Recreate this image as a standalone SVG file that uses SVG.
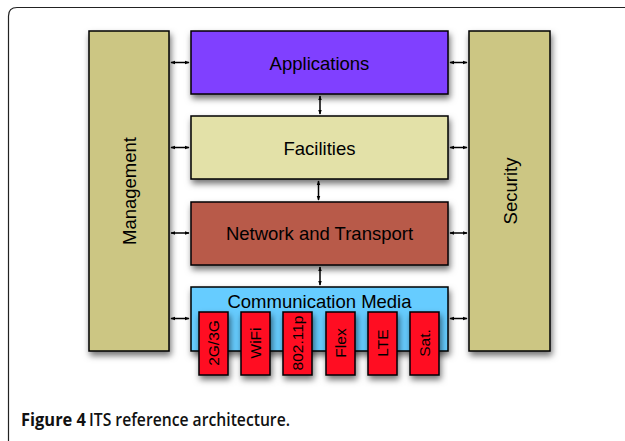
<svg xmlns="http://www.w3.org/2000/svg" width="625" height="441" viewBox="0 0 625 441">
<defs>
<filter id="sh" x="-30%" y="-30%" width="160%" height="170%">
<feDropShadow dx="1.5" dy="4" stdDeviation="3" flood-color="#000" flood-opacity="0.55"/>
</filter>
<marker id="ah" viewBox="0 0 8 8" refX="7" refY="4" markerWidth="5" markerHeight="5" orient="auto-start-reverse" markerUnits="userSpaceOnUse">
<path d="M0,1 L8,4 L0,7 Z" fill="#000"/>
</marker>
<style>
.box{stroke:#000;stroke-width:1.5;filter:url(#sh)}
.lbl{font-family:"Liberation Sans",Arial,sans-serif;font-size:18.5px;fill:#000;text-anchor:middle;dominant-baseline:central}
.sm{font-family:"Liberation Sans",Arial,sans-serif;font-size:15.5px;fill:#000;text-anchor:middle;dominant-baseline:central}
.con line{stroke:#000;stroke-width:1.5;marker-start:url(#ah);marker-end:url(#ah)}
.red{fill:#FF1020}
</style>
</defs>
<rect width="625" height="441" fill="#fff"/>
<path d="M8.5,441 V16 Q8.5,7.5 17,7.5 H625" fill="none" stroke="#222" stroke-width="1.2"/>

<g id="management">
<rect class="box" x="89" y="31" width="80" height="320" fill="#CCC683"/>
<text class="lbl" transform="translate(129,191) rotate(-90)">Management</text>
</g>
<g id="security">
<rect class="box" x="469" y="31" width="81" height="320" fill="#CCC683"/>
<text class="lbl" transform="translate(510,191) rotate(-90)">Security</text>
</g>
<g id="applications">
<rect class="box" x="191" y="31" width="257" height="63" fill="#8040FF"/>
<text class="lbl" x="319.5" y="63">Applications</text>
</g>
<g id="facilities">
<rect class="box" x="191" y="116" width="257" height="63" fill="#E3E1A8"/>
<text class="lbl" x="319.5" y="148">Facilities</text>
</g>
<g id="network">
<rect class="box" x="191" y="202" width="257" height="63" fill="#B85A48"/>
<text class="lbl" x="319.5" y="233">Network and Transport</text>
</g>
<g id="comm">
<rect class="box" x="191" y="287" width="257" height="64" fill="#66CCFF"/>
<text class="lbl" x="319.5" y="301">Communication Media</text>
</g>
<g id="g2g3g">
<rect class="box red" x="199" y="312" width="29" height="63"/>
<text class="sm" transform="translate(213.5,343) rotate(-90)">2G/3G</text>
</g>
<g id="wifi">
<rect class="box red" x="241" y="312" width="29" height="63"/>
<text class="sm" transform="translate(255.5,343) rotate(-90)">WiFi</text>
</g>
<g id="p80211p">
<rect class="box red" x="283" y="312" width="29" height="63"/>
<text class="sm" transform="translate(297.5,343) rotate(-90)">802.11p</text>
</g>
<g id="flex">
<rect class="box red" x="326" y="312" width="29" height="63"/>
<text class="sm" transform="translate(340.5,343) rotate(-90)">Flex</text>
</g>
<g id="lte">
<rect class="box red" x="368" y="312" width="29" height="63"/>
<text class="sm" transform="translate(382.5,343) rotate(-90)">LTE</text>
</g>
<g id="sat">
<rect class="box red" x="410" y="312" width="29" height="63"/>
<text class="sm" transform="translate(424.5,343) rotate(-90)">Sat.</text>
</g>

<g id="connectors" class="con">
<line x1="171" y1="62.5" x2="189" y2="62.5"/>
<line x1="171" y1="147.5" x2="189" y2="147.5"/>
<line x1="171" y1="233" x2="189" y2="233"/>
<line x1="171" y1="318.5" x2="189" y2="318.5"/>
<line x1="450" y1="62.5" x2="467" y2="62.5"/>
<line x1="450" y1="147.5" x2="467" y2="147.5"/>
<line x1="450" y1="233" x2="467" y2="233"/>
<line x1="450" y1="318.5" x2="467" y2="318.5"/>
<line x1="320" y1="96" x2="320" y2="114"/>
<line x1="318.5" y1="181" x2="318.5" y2="200"/>
<line x1="320" y1="267" x2="320" y2="285"/>
</g>

<text x="21" y="425.5" font-family="'Open Sans','Noto Sans',sans-serif" font-size="18" fill="#111"><tspan font-weight="700" textLength="65" lengthAdjust="spacingAndGlyphs">Figure 4</tspan><tspan x="89" font-weight="600" textLength="201" lengthAdjust="spacingAndGlyphs">ITS reference architecture.</tspan></text>
</svg>
